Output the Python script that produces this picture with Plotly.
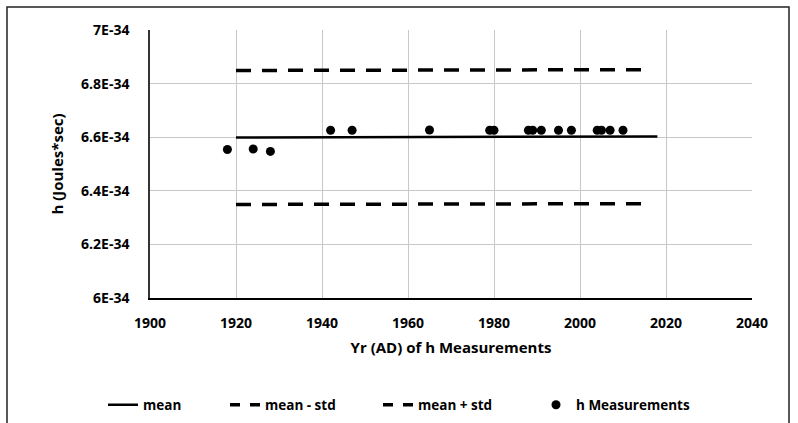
import plotly.graph_objects as go

# --- data (values in units of 1E-34 J*s) ---
years = [1918, 1924, 1928, 1942, 1947, 1965, 1979, 1980, 1988, 1989, 1991,
         1995, 1998, 2004, 2005, 2007, 2010]
h_vals = [6.554, 6.556, 6.547, 6.626, 6.626, 6.627, 6.626, 6.626, 6.626, 6.626,
          6.626, 6.626, 6.626, 6.626, 6.626, 6.626, 6.626]
mean_x = [1920, 2018]
mean_y = [6.599, 6.603]
std_x = [1920, 2015]
mean_minus_y = [6.349, 6.352]
mean_plus_y = [6.849, 6.852]

y_ticks = [6.0, 6.2, 6.4, 6.6, 6.8, 7.0]
y_ticktext = ["6E-34", "6.2E-34", "6.4E-34", "6.6E-34", "6.8E-34", "7E-34"]
x_ticks = [1900, 1920, 1940, 1960, 1980, 2000, 2020, 2040]

scale = 1e-34
FONT = "Open Sans"
BOLD = "bold"

W, H = 798, 423
L, R, T, B = 150, 46, 30, 125
pw, ph = W - L - R, H - T - B

def px(xp):
    return (xp - L) / pw

def py(yp):
    return (H - B - yp) / ph

def cx(xp):
    return xp / W

def cy(yp):
    return 1 - yp / H

DASH = "15px,11px"
fig = go.Figure()
fig.add_trace(go.Scatter(x=mean_x, y=[v * scale for v in mean_y], mode="lines",
                         name="mean", legend="legend",
                         line=dict(color="black", width=2.5)))
fig.add_trace(go.Scatter(x=std_x, y=[v * scale for v in mean_minus_y], mode="lines",
                         name="mean - std", showlegend=False,
                         line=dict(color="black", width=3.5, dash=DASH)))
fig.add_trace(go.Scatter(x=std_x, y=[v * scale for v in mean_plus_y], mode="lines",
                         name="mean + std", showlegend=False,
                         line=dict(color="black", width=3.5, dash=DASH)))
fig.add_trace(go.Scatter(x=years, y=[v * scale for v in h_vals], mode="markers",
                         name="h Measurements", legend="legend4",
                         marker=dict(color="black", size=9)))
# legend entries for the dashed series (sample pattern scaled to legend swatch)
fig.add_trace(go.Scatter(x=[None], y=[None], mode="lines", name="mean - std",
                         legend="legend2",
                         line=dict(color="black", width=3.5, dash="10px,10px")))
fig.add_trace(go.Scatter(x=[None], y=[None], mode="lines", name="mean + std",
                         legend="legend3",
                         line=dict(color="black", width=3.5, dash="10px,10px")))

leg_font = dict(family=FONT, size=13.5, weight=BOLD, color="black")

def leg(text_start):
    return dict(orientation="h", xref="container", yref="container",
                x=cx(text_start - 42), xanchor="left",
                y=cy(405), yanchor="middle", font=leg_font,
                bgcolor="rgba(0,0,0,0)", borderwidth=0)

fig.update_layout(
    width=W, height=H,
    margin=dict(l=L, r=R, t=T, b=B, autoexpand=False),
    paper_bgcolor="white", plot_bgcolor="white",
    font=dict(family=FONT, color="#000000", size=13, weight=BOLD),
    showlegend=True,
    legend=leg(145),
    legend2=leg(267),
    legend3=leg(420),
    legend4=leg(578),
    shapes=[dict(type="rect", xref="paper", yref="paper",
                 x0=px(7), x1=px(789), y0=py(440), y1=py(7),
                 line=dict(color="#222222", width=1.5), layer="above")],
)
fig.update_xaxes(
    range=[1900, 2040], tickvals=x_ticks, automargin=False,
    showgrid=True, gridcolor="#c8c8c8", gridwidth=1,
    showline=True, linecolor="black", linewidth=1.5, mirror=False,
    zeroline=False,
    ticks="outside", ticklen=11, tickcolor="rgba(0,0,0,0)",
    tickfont=dict(family=FONT, size=14, weight=BOLD),
    title=dict(text="Yr (AD) of h Measurements", standoff=12,
               font=dict(family=FONT, size=15, weight=BOLD)),
)
fig.update_yaxes(
    range=[6.0 * scale, 7.0 * scale], automargin=False,
    tickvals=[v * scale for v in y_ticks], ticktext=y_ticktext,
    showgrid=True, gridcolor="#c8c8c8", gridwidth=1,
    showline=True, linecolor="#333333", linewidth=1.5,
    zeroline=False,
    ticks="outside", ticklen=16, tickcolor="rgba(0,0,0,0)",
    tickfont=dict(family=FONT, size=14, weight=BOLD),
    title=dict(text="h (Joules*sec)", standoff=14,
               font=dict(family=FONT, size=15, weight=BOLD)),
)

fig.write_html("out.html")
